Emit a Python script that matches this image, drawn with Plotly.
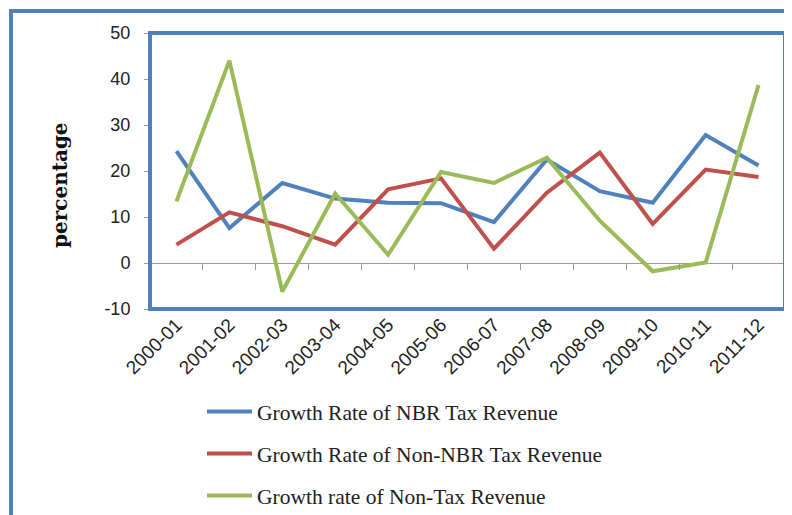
import plotly.graph_objects as go

years = ["2000-01", "2001-02", "2002-03", "2003-04", "2004-05", "2005-06",
         "2006-07", "2007-08", "2008-09", "2009-10", "2010-11", "2011-12"]
nbr_tax = [24.3, 7.6, 17.4, 14.0, 13.1, 13.0, 8.9, 22.5, 15.6, 13.1, 27.8, 21.2]
non_nbr_tax = [4.0, 11.0, 8.0, 4.0, 16.0, 18.4, 3.1, 15.3, 24.0, 8.5, 20.3, 18.7]
non_tax = [13.4, 44.0, -6.2, 15.1, 1.8, 19.8, 17.4, 22.9, 9.2, -1.8, 0.1, 38.7]

y_ticks = [-10, 0, 10, 20, 30, 40, 50]
y_tick_labels = ["-10", "0", "10", "20", "30", "40", "50"]

series_names = ["Growth Rate of NBR Tax Revenue",
                "Growth Rate of Non-NBR Tax Revenue",
                "Growth rate of Non-Tax Revenue"]
colors = ["#4F81BD", "#C0504D", "#9BBB59"]

fig = go.Figure()
for i, (name, vals, c) in enumerate(zip(series_names, [nbr_tax, non_nbr_tax, non_tax], colors)):
    fig.add_trace(go.Scatter(x=years, y=vals, mode="lines", name=name,
                             line=dict(color=c, width=4), legendgroup=f"g{i}"))

# invisible trace to drive the tick-mark axis at y=0
fig.add_trace(go.Scatter(x=years, y=[None]*len(years), xaxis="x2", showlegend=False,
                         hoverinfo="skip", mode="lines"))

# page has an 8px body margin; figure coords = page coords - 8
OFF = 8
W, H = 792 - OFF, 515 - OFF
L, T = 150 - OFF, 33 - OFF
R = W - (785 - OFF)
B = H - (309 - OFF)
pw, ph = W - L - R, H - T - B

def px(xp):  # page x -> paper x
    return (xp - OFF - L) / pw

def py(yp):  # page y -> paper y
    return (T + ph - (yp - OFF)) / ph

tick_font = "Liberation Sans, Arial, sans-serif"

fig.update_layout(
    width=W, height=H,
    margin=dict(l=L, r=R, t=T, b=B, autoexpand=False),
    paper_bgcolor="white", plot_bgcolor="white",
    showlegend=True,
    legend=dict(xref="container", yref="container",
                x=(209 - OFF - 7) / W, y=(H - (391 - OFF)) / H, xanchor="left", yanchor="top",
                font=dict(family="Liberation Serif, DejaVu Serif, serif", size=21.5, color="#222"),
                tracegroupgap=11, itemwidth=45, bgcolor="rgba(0,0,0,0)"),
    xaxis=dict(type="category", categoryorder="array", categoryarray=years,
               range=[-0.5, 11.5], showgrid=False, zeroline=False, showline=False,
               ticks="", tickangle=-45, automargin=False,
               tickfont=dict(family=tick_font, size=19, color="#222")),
    xaxis2=dict(type="category", categoryorder="array", categoryarray=years,
                range=[-0.5, 11.5], overlaying="x", anchor="free", position=10/60,
                showgrid=False, zeroline=False, showline=False, showticklabels=False,
                automargin=False,
                ticks="outside", tickson="boundaries", ticklen=6, tickcolor="#9a9a9a", tickwidth=1),
    yaxis=dict(range=[-10, 50], tickvals=y_ticks, ticktext=y_tick_labels,
               showgrid=False, zeroline=True, zerolinecolor="#9a9a9a", zerolinewidth=1,
               ticks="outside", ticklen=5, tickcolor="#9a9a9a", ticklabelstandoff=10,
               showline=False, automargin=False,
               tickfont=dict(family=tick_font, size=18, color="#222")),
    shapes=[
        dict(type="rect", xref="paper", yref="paper", x0=0, x1=1, y0=0, y1=1,
             line=dict(color="#4F81BD", width=4), fillcolor="rgba(0,0,0,0)", layer="above"),
        dict(type="rect", xref="paper", yref="paper",
             x0=px(11), x1=px(815), y0=py(560), y1=py(11),
             line=dict(color="#4F81BD", width=4), fillcolor="rgba(0,0,0,0)"),
    ],
    annotations=[
        dict(text="<b>percentage</b>", xref="paper", yref="paper",
             x=px(60), y=py(185), xanchor="center", yanchor="middle",
             textangle=-90, showarrow=False,
             font=dict(family="DejaVu Serif, Liberation Serif, serif", size=20, color="#111")),
    ],
)

fig.write_html("out.html")
